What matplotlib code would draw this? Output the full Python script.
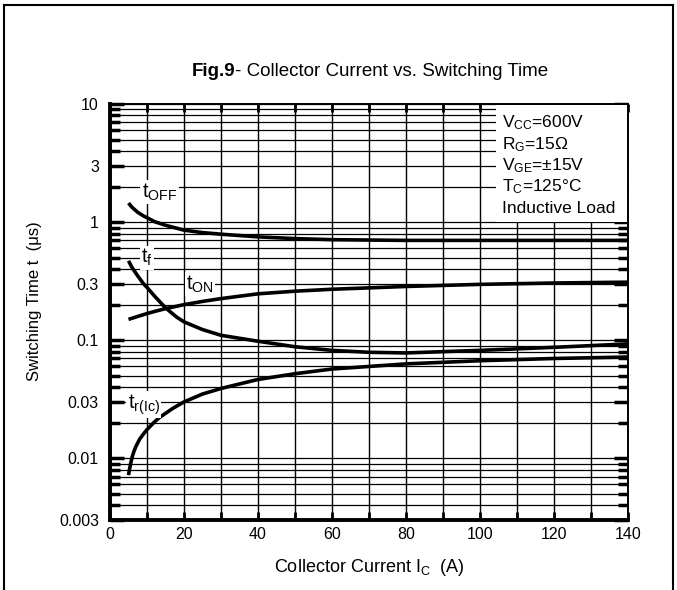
import matplotlib
matplotlib.use("Agg")
import matplotlib.pyplot as plt
from matplotlib.ticker import FixedLocator, LogLocator, NullFormatter, FixedFormatter
from matplotlib.lines import Line2D
from matplotlib.patches import Rectangle

plt.rcParams['font.family'] = ['Liberation Sans', 'DejaVu Sans']
plt.rcParams['mathtext.fontset'] = 'custom'
plt.rcParams['mathtext.rm'] = 'Liberation Sans'
plt.rcParams['mathtext.it'] = 'Liberation Sans'
plt.rcParams['mathtext.bf'] = 'Liberation Sans:bold'

# ---- data ----
ic_off = [5, 6, 7.5, 9, 10, 12, 15, 20, 25, 30, 40, 50, 60, 80, 100, 120, 140]
t_off = [1.45, 1.33, 1.21, 1.13, 1.09, 1.01, 0.94, 0.855, 0.815, 0.79, 0.75, 0.725, 0.71,
         0.70, 0.70, 0.70, 0.70]

ic_on = [5, 7.5, 10, 12, 15, 20, 25, 30, 40, 50, 60, 80, 100, 120, 140]
t_on = [0.15, 0.159, 0.168, 0.175, 0.185, 0.20, 0.213, 0.225, 0.247, 0.26, 0.27, 0.285,
        0.297, 0.305, 0.31]

ic_f = [5, 6, 7.5, 9, 10, 12, 15, 18, 20, 25, 30, 40, 50, 60, 70, 80, 100, 120, 140]
t_f = [0.47, 0.41, 0.35, 0.302, 0.28, 0.237, 0.188, 0.157, 0.143, 0.123, 0.110, 0.098,
       0.088, 0.082, 0.079, 0.078, 0.082, 0.087, 0.093]

ic_r = [5, 5.5, 6, 6.5, 7, 8, 9, 10, 12, 13.5, 17, 20, 25, 30, 40, 50, 60, 80, 100, 120, 140]
t_r = [0.0072, 0.0088, 0.0103, 0.0115, 0.0126, 0.0145, 0.0160, 0.0175, 0.0203, 0.0223,
       0.0265, 0.030, 0.035, 0.039, 0.0465, 0.052, 0.057, 0.063, 0.067, 0.070, 0.072]

y_ticks = [0.003, 0.01, 0.03, 0.1, 0.3, 1, 3, 10]
y_tick_labels = ['0.003', '0.01', '0.03', '0.1', '0.3', '1', '3', '10']
x_ticks = [0, 20, 40, 60, 80, 100, 120, 140]

conditions = ['V$_{\\mathrm{CC}}$=600V', 'R$_{\\mathrm{G}}$=15\u03a9',
              'V$_{\\mathrm{GE}}$=\u00b115V', 'T$_{\\mathrm{C}}$=125\u00b0C', 'Inductive Load']

# ---- figure ----
fig = plt.figure(figsize=(6.77, 5.90), dpi=100)
ax = fig.add_axes([0.1625, 0.1186, 0.765, 0.7051])

ax.set_yscale('log')
ax.set_xlim(0, 140)
ax.set_ylim(0.003, 10)

ax.yaxis.set_major_locator(FixedLocator(y_ticks))
ax.yaxis.set_major_formatter(FixedFormatter(y_tick_labels))
ax.yaxis.set_minor_locator(LogLocator(base=10, subs=[1, 2, 3, 4, 5, 6, 7, 8, 9], numticks=20))
ax.yaxis.set_minor_formatter(NullFormatter())
ax.xaxis.set_major_locator(FixedLocator(x_ticks))
ax.xaxis.set_minor_locator(FixedLocator(list(range(10, 140, 20))))

ax.grid(True, which='both', axis='y', color='black', linewidth=0.9)
ax.grid(True, which='both', axis='x', color='black', linewidth=1.0)
ax.set_axisbelow(True)

ax.tick_params(axis='x', which='major', direction='in', length=6, width=2.0, top=True,
               labelsize=11.5, pad=5)
ax.tick_params(axis='x', which='minor', direction='in', length=6, width=2.0, top=True)
ax.tick_params(axis='y', which='major', direction='in', length=10, width=2.5, right=True,
               labelsize=11.5, pad=8)
ax.tick_params(axis='y', which='minor', direction='in', length=7, width=2.5, right=True)

for s in ['left', 'bottom']:
    ax.spines[s].set_linewidth(2.8)
for s in ['right', 'top']:
    ax.spines[s].set_linewidth(1.4)

lw = 2.6
for xs, ys in [(ic_off, t_off), (ic_on, t_on), (ic_f, t_f), (ic_r, t_r)]:
    ax.plot(xs, ys, color='black', lw=lw, solid_capstyle='butt', solid_joinstyle='round')

bbox = dict(facecolor='white', edgecolor='none', pad=1.0)
ax.text(8.6, 1.80, 't$_{\\mathrm{OFF}}$', fontsize=14.5, va='center', ha='left', bbox=bbox)
ax.text(8.4, 0.50, 't$_{\\mathrm{f}}$', fontsize=14.5, va='center', ha='left', bbox=bbox)
ax.text(20.6, 0.30, 't$_{\\mathrm{ON}}$', fontsize=14.5, va='center', ha='left', bbox=bbox)
ax.text(4.8, 0.0285, 't$_{\\mathrm{r(Ic)}}$', fontsize=14.5, va='center', ha='left', bbox=bbox)

# conditions box
ax.add_patch(Rectangle((104.3, 1.0), 140 - 104.3 - 0.3, 9.85 - 1.0, transform=ax.transData,
                       facecolor='white', edgecolor='none', zorder=2.5))
cond_y = [6.9, 4.5, 2.98, 1.98, 1.31]
for txt, yy in zip(conditions, cond_y):
    ax.text(106.0, yy, txt, fontsize=12.5, va='center', ha='left', zorder=3)

ax.set_xlabel('Collector Current I$_{\\mathrm{C}}$  (A)', fontsize=13, labelpad=11)
ax.set_ylabel('Switching Time t  (\u03bcs)', fontsize=12)
ax.yaxis.set_label_coords(-0.131, 0.526)

# title: bold "Fig.9" followed by regular text
t1 = fig.text(0.0, 0.878, 'Fig.9', fontsize=13.5, fontweight='bold', ha='left', va='center')
t2 = fig.text(0.0, 0.878, '- Collector Current vs. Switching Time', fontsize=13.5,
              ha='left', va='center')
fig.canvas.draw()
r = fig.canvas.get_renderer()
w1 = t1.get_window_extent(r).width
w2 = t2.get_window_extent(r).width
W = fig.bbox.width
x0 = 370.0 - (w1 + w2) / 2.0
t1.set_x(x0 / W)
t2.set_x((x0 + w1) / W)

# page frame
fig.add_artist(Line2D([0.0065, 0.0065], [0, 0.9915], transform=fig.transFigure, color='black', lw=1.5))
fig.add_artist(Line2D([0.9935, 0.9935], [0, 0.9915], transform=fig.transFigure, color='black', lw=1.5))
fig.add_artist(Line2D([0.0065, 0.9935], [0.9915, 0.9915], transform=fig.transFigure, color='black', lw=1.5))

fig.savefig('out.png', dpi=100)
